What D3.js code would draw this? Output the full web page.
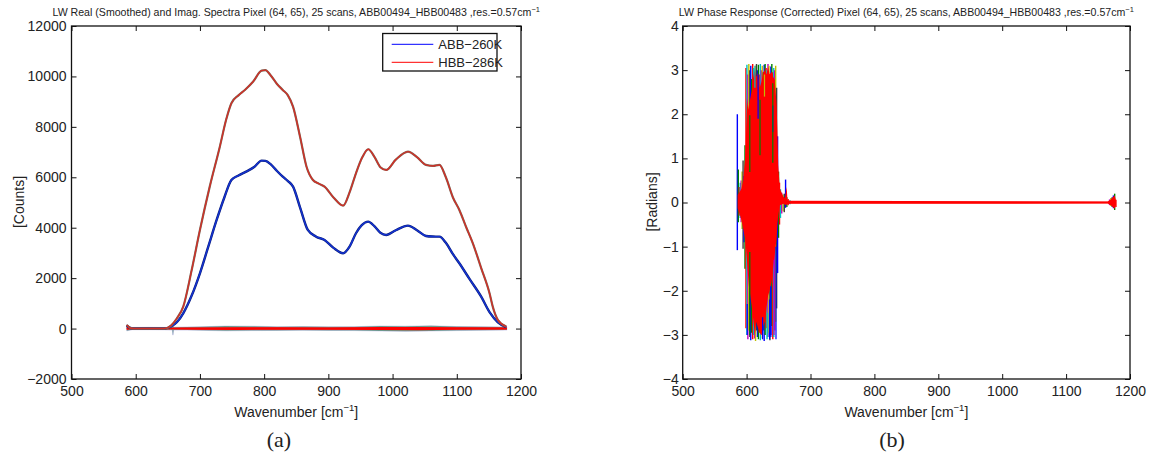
<!DOCTYPE html>
<html>
<head>
<meta charset="utf-8">
<script src="https://cdn.jsdelivr.net/npm/d3@7"></script>
<style>
  body { margin: 0; background: #fff; }
  text { font-family: "Liberation Sans", Arial, sans-serif; fill: #222; }
  .cap { font-family: "Liberation Serif", "DejaVu Serif", serif; }
</style>
</head>
<body>
<script>
// ---- data ----
var wnTicks = [500, 600, 700, 800, 900, 1000, 1100, 1200];
var countTicks = [-2000, 0, 2000, 4000, 6000, 8000, 10000, 12000];
var radTicks = [-4, -3, -2, -1, 0, 1, 2, 3, 4];

// smoothed real spectra [wavenumber, counts]
var abbSpec = [[586,110],[589,60],[593,10],[600,0],[620,0],[645,0],[655,80],[664,250],[674,606],[687,1300],
  [700,2193],[713,3250],[726,4308],[738,5200],[749,5894],[760,6070],[772,6224],[785,6420],[796,6660],[802,6650],
  [810,6520],[820,6250],[829,6025],[837,5850],[845,5630],[856,4800],[868,3911],[881,3645],[894,3515],[908,3200],
  [923,2985],[933,3250],[943,3780],[952,4100],[962,4240],[972,4050],[981,3800],[990,3713],[1005,3900],[1024,4082],
  [1038,3900],[1052,3673],[1062,3650],[1073,3645],[1083,3400],[1094,2950],[1104,2590],[1120,1960],[1138,1265],
  [1151,650],[1164,250],[1177,60]];
var hbbSpec = [[586,140],[589,70],[593,10],[600,0],[620,0],[645,0],[655,120],[664,400],[674,869],[687,2300],
  [700,3911],[715,5600],[731,7215],[741,8300],[749,8937],[760,9250],[770,9464],[783,9800],[796,10230],[802,10250],
  [810,10050],[820,9700],[829,9464],[837,9250],[845,8800],[856,7600],[866,6420],[876,5894],[885,5750],[894,5630],
  [908,5200],[923,4875],[933,5400],[943,6160],[953,6800],[962,7112],[972,6800],[981,6400],[990,6290],[1005,6700],
  [1024,7017],[1038,6800],[1052,6490],[1063,6450],[1073,6490],[1083,6000],[1094,5200],[1104,4705],[1115,4000],
  [1125,3383],[1138,2400],[1151,1400],[1156,870],[1164,340],[1177,80]];

// imaginary parts, spread of all scans [wavenumber, low, high]
var imagAll = [[586,-90,160],[590,-70,90],[595,-45,45],[620,-45,50],[645,-50,45],[657,-60,55],[658,-260,220],
  [659,-60,55],[680,-60,65],[700,-70,70],[740,-90,100],[780,-80,95],[820,-75,75],[860,-70,80],[900,-75,70],
  [940,-80,75],[980,-95,100],[1020,-110,95],[1060,-95,110],[1100,-80,80],[1140,-70,75],[1178,-60,60]];
var imagRed = [[586,-50,110],[592,-30,30],[650,-30,30],[700,-45,45],[760,-55,55],[820,-45,50],[900,-50,45],
  [980,-60,60],[1040,-65,60],[1100,-50,50],[1178,-40,40]];

// phase response, spread of the scans [wavenumber, low, high]
var phaseAll = [[585.5,-1.08,2.0],[587,-0.45,0.75],[588.5,-0.3,0.35],[590,-0.35,0.45],[591.5,-0.45,0.5],
  [593,-0.6,0.7],[594.5,-1.05,0.95],[596,-0.9,0.6],[597.5,-1.5,1.3],[599,-2.85,3.05],[600.5,-3.0,3.12],
  [602,-3.1,2.9],[603.5,-2.9,3.14],[605,-3.05,3.0],[606.5,-3.12,3.1],[608,-2.95,2.8],[609.5,-3.1,3.14],
  [611,-3.0,3.05],[612.5,-3.08,2.95],[614,-3.14,3.1],[615.5,-2.9,3.14],[617,-3.05,3.0],[618.5,-3.1,3.12],
  [620,-2.95,2.9],[621.5,-3.12,3.14],[623,-3.0,3.0],[624.5,-3.08,3.1],[626,-2.9,2.95],[627.5,-3.14,3.12],
  [629,-3.0,3.14],[630.5,-2.85,3.05],[632,-3.1,3.0],[633.5,-3.05,3.14],[635,-2.95,3.1],[636.5,-3.12,2.9],
  [638,-3.0,3.08],[639.5,-2.8,3.14],[641,-3.1,2.95],[642.5,-3.05,3.05],[644,-2.9,3.0],[645.5,-2.7,3.1],
  [647,-2.4,2.6],[648.5,-1.6,1.5],[650,-0.8,0.7],[651.5,-0.5,0.45],[653,-0.35,0.3],[655,-0.25,0.22],
  [657,-0.2,0.18],[659,-0.22,0.2],[661,-0.12,0.52],[663,-0.1,0.12],[665,-0.06,0.08],[668,-0.04,0.05],
  [1168,-0.06,0.07],[1170,-0.08,0.1],[1172,-0.1,0.12],[1174,-0.13,0.16],[1176,-0.17,0.2],[1178,-0.1,0.06]];
var phaseRed = [[586,-0.13,0.17],[589.5,-0.28,0.25],[592,-0.4,0.32],[594.7,-0.59,0.5],[598.4,-0.89,1.15],
  [600.5,-1.3,2.36],[602.6,-1.72,2.1],[603.6,-1.9,2.2],[607.8,-2.32,2.51],[610,-2.6,2.8],[613,-3.0,3.04],
  [615,-2.7,2.85],[618,-2.85,2.93],[620.5,-2.95,2.6],[623.4,-3.0,2.74],[626,-2.8,2.95],[628.6,-2.7,3.0],
  [631,-2.4,2.9],[633.8,-2.1,3.08],[636,-2.0,2.9],[639,-1.8,2.96],[641.5,-1.5,2.85],[644,-1.19,2.78],
  [647,-0.8,2.21],[648.4,-0.44,1.5],[649.5,-0.3,0.85],[652,-0.06,0.32],[657.5,-0.03,0.13],[660,-0.05,0.1],
  [662.7,-0.05,0.35],[664,-0.04,0.05],[668,-0.03,0.04],[1165,-0.025,0.025],[1170,-0.06,0.07],
  [1173,-0.1,0.12],[1176,-0.14,0.16],[1178,-0.05,0.05]];
// single scans showing through the red [wavenumber, low, high, colour]
var phaseAccent = [[601,-3.0,-2.3,0],[605,0.69,1.98,1],[605,-3.0,-1.12,1],[618,1.9,2.9,0],[621,1.07,2.33,1],
  [625,-3.1,-2.6,0],[628,2.4,2.9,5],[636,-3.1,-2.2,0],[638,-3.05,-1.9,0],[641,1.6,2.2,0],[643,-3.0,-1.3,4],
  [641,0.9,2.7,1],[646,-3.1,-1.0,0],[613,2.6,3.1,3],[633,-3.05,-2.5,3]];

var matlabColors = ["#0000ff", "#008000", "#ff0000", "#00bfbf", "#bf00bf", "#bfbf00", "#404040"];
var legendNames = ["ABB\u2212260K", "HBB\u2212286K"];

var W = 1158, H = 458;
var svg = d3.select("body").append("svg").attr("width", W).attr("height", H);

function panel(opt) {
  var x = d3.scaleLinear().domain([500, 1200]).range([opt.left, opt.right]);
  var y = d3.scaleLinear().domain(opt.yDomain).range([379, 26]);
  var g = svg.append("g");
  var clip = g.append("g");

  opt.draw(clip, x, y);

  // axes, ticks inside on all four sides
  var fmt = function(d) { return d < 0 ? "\u2212" + Math.abs(d) : String(d); };
  var bottom = g.append("g").attr("transform", "translate(0,379)")
    .call(d3.axisBottom(x).tickValues(wnTicks).tickSizeInner(-5).tickSizeOuter(0).tickPadding(7).tickFormat(fmt));
  var top = g.append("g").attr("transform", "translate(0,26)")
    .call(d3.axisTop(x).tickValues(wnTicks).tickSizeInner(-5).tickSizeOuter(0).tickFormat(""));
  var left = g.append("g").attr("transform", "translate(" + opt.left + ",0)")
    .call(d3.axisLeft(y).tickValues(opt.yTicks).tickSizeInner(-5).tickSizeOuter(0).tickPadding(opt.pad).tickFormat(fmt));
  var right = g.append("g").attr("transform", "translate(" + opt.right + ",0)")
    .call(d3.axisRight(y).tickValues(opt.yTicks).tickSizeInner(-5).tickSizeOuter(0).tickFormat(""));
  [bottom, top, left, right].forEach(function(a) {
    a.select(".domain").remove();
    a.selectAll("line").attr("stroke", "#111").attr("stroke-width", 1);
    a.selectAll("text").attr("font-size", 14).attr("fill", "#222")
      .attr("font-family", "Liberation Sans, Arial, sans-serif");
  });
  g.append("rect").attr("x", opt.left).attr("y", 26)
    .attr("width", opt.right - opt.left).attr("height", 353)
    .attr("fill", "none").attr("stroke", "#111").attr("stroke-width", 1.3);

  var cx = (opt.left + opt.right) / 2;
  var t = g.append("text").attr("x", cx).attr("y", 16).attr("text-anchor", "middle").attr("font-size", 10.6);
  t.append("tspan").text(opt.title);
  t.append("tspan").attr("dy", -4).attr("font-size", 7.5).text("\u22121");

  var xl = g.append("text").attr("x", cx).attr("y", 417).attr("text-anchor", "middle").attr("font-size", 14);
  xl.append("tspan").text("Wavenumber [cm");
  xl.append("tspan").attr("dy", -6).attr("font-size", 9.5).text("\u22121");
  xl.append("tspan").attr("dy", 6).text("]");

  g.append("text").attr("transform", "translate(" + opt.yLabX + ",202) rotate(-90)")
    .attr("text-anchor", "middle").attr("font-size", 14).text(opt.yLabel);

  g.append("text").attr("class", "cap").attr("x", opt.capX).attr("y", 447)
    .attr("text-anchor", "middle").attr("font-size", 22).text(opt.cap);
}

function bandArea(x, y) {
  return d3.area().x(function(d) { return x(d[0]); })
    .y0(function(d) { return y(d[1]); }).y1(function(d) { return y(d[2]); });
}

panel({
  left: 71.5, right: 521, yDomain: [-2000, 12000], yTicks: countTicks, pad: 5,
  title: "LW Real (Smoothed) and Imag. Spectra Pixel (64, 65), 25 scans, ABB00494_HBB00483 ,res.=0.57cm",
  yLabel: "[Counts]", yLabX: 24, cap: "(a)", capX: 279,
  draw: function(g, x, y) {
    var area = bandArea(x, y);
    g.append("path").datum(imagAll).attr("d", area).attr("fill", "#4a8a6a").attr("opacity", 0.8);
    g.append("path").datum(imagAll).attr("d", area).attr("fill", "none").attr("stroke", "#6060c0").attr("stroke-width", 0.5).attr("opacity", 0.5);
    g.append("path").datum(imagRed).attr("d", area).attr("fill", "#ff0000");
    g.append("line").attr("x1", x(586)).attr("x2", x(1178)).attr("y1", y(0)).attr("y2", y(0))
      .attr("stroke", "#ff0000").attr("stroke-width", 1.6);

    var line = d3.line().x(function(d) { return x(d[0]); }).y(function(d) { return y(d[1]); })
      .curve(d3.curveMonotoneX);
    g.append("path").datum(abbSpec).attr("d", line).attr("fill", "none").attr("stroke", "#0a1e78").attr("stroke-width", 2.4);
    g.append("path").datum(abbSpec).attr("d", line).attr("fill", "none").attr("stroke", "#1432d2").attr("stroke-width", 1.4);
    g.append("path").datum(hbbSpec).attr("d", line).attr("fill", "none").attr("stroke", "#7a6a5a").attr("stroke-width", 2.2);
    g.append("path").datum(hbbSpec).attr("d", line).attr("fill", "none").attr("stroke", "#d03028").attr("stroke-width", 1.4);

    // legend
    var lg = g.append("g");
    lg.append("rect").attr("x", 382.7).attr("y", 33.5).attr("width", 114.3).attr("height", 37.5)
      .attr("fill", "#fff").attr("stroke", "#111").attr("stroke-width", 1.3);
    legendNames.forEach(function(n, i) {
      var yy = 44.3 + i * 18;
      lg.append("line").attr("x1", 391.7).attr("x2", 433.3).attr("y1", yy).attr("y2", yy)
        .attr("stroke", i === 0 ? "#0000ff" : "#ff0000").attr("stroke-width", 1);
      lg.append("text").attr("x", 438.3).attr("y", yy + 4.5).attr("font-size", 13).text(n);
    });
  }
});

panel({
  left: 682.7, right: 1130, yDomain: [-4, 4], yTicks: radTicks, pad: 4,
  title: "LW Phase Response (Corrected) Pixel (64, 65), 25 scans, ABB00494_HBB00483 ,res.=0.57cm",
  yLabel: "[Radians]", yLabX: 657, cap: "(b)", capX: 892,
  draw: function(g, x, y) {
    g.selectAll(".stripe").data(phaseAll).enter().append("line")
      .attr("x1", function(d) { return x(d[0]); }).attr("x2", function(d) { return x(d[0]); })
      .attr("y1", function(d) { return y(d[1]); }).attr("y2", function(d) { return y(d[2]); })
      .attr("stroke", function(d, i) { return matlabColors[i % matlabColors.length]; })
      .attr("stroke-width", 1.4);
    g.append("path").datum(phaseRed).attr("d", bandArea(x, y)).attr("fill", "#ff0000");
    g.selectAll(".accent").data(phaseAccent).enter().append("line")
      .attr("x1", function(d) { return x(d[0]); }).attr("x2", function(d) { return x(d[0]); })
      .attr("y1", function(d) { return y(d[1]); }).attr("y2", function(d) { return y(d[2]); })
      .attr("stroke", function(d) { return matlabColors[d[3]]; })
      .attr("stroke-width", 1.2);
    g.append("line").attr("x1", x(660)).attr("x2", x(1176)).attr("y1", y(0)).attr("y2", y(0))
      .attr("stroke", "#ff0000").attr("stroke-width", 1.6);
  }
});
</script>
</body>
</html>
